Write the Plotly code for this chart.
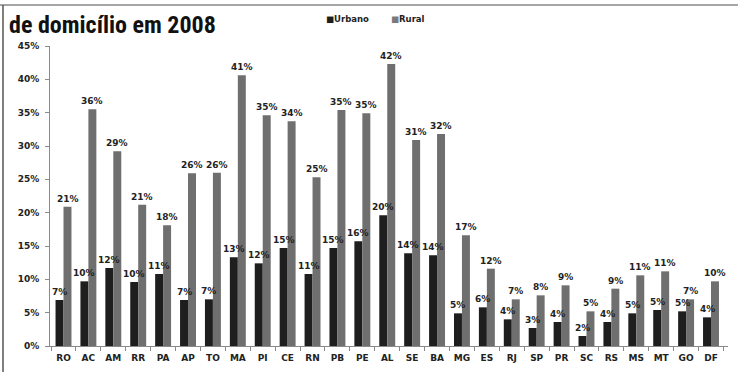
import plotly.graph_objects as go

estados = ["RO", "AC", "AM", "RR", "PA", "AP", "TO", "MA", "PI", "CE", "RN", "PB", "PE", "AL",
           "SE", "BA", "MG", "ES", "RJ", "SP", "PR", "SC", "RS", "MS", "MT", "GO", "DF"]
urbano = [0.069, 0.097, 0.117, 0.096, 0.108, 0.069, 0.070, 0.133, 0.124, 0.147, 0.108, 0.147, 0.157, 0.196,
          0.139, 0.136, 0.049, 0.058, 0.040, 0.027, 0.036, 0.015, 0.036, 0.049, 0.054, 0.052, 0.043]
rural = [0.209, 0.355, 0.292, 0.212, 0.181, 0.259, 0.260, 0.406, 0.346, 0.337, 0.253, 0.354, 0.349, 0.423,
         0.309, 0.318, 0.166, 0.116, 0.070, 0.076, 0.091, 0.052, 0.086, 0.106, 0.112, 0.070, 0.097]
y_ticks = [0, 0.05, 0.10, 0.15, 0.20, 0.25, 0.30, 0.35, 0.40, 0.45]

C_URB = "#1e1e1e"
C_RUR = "#6f6f6f"
FONT = "DejaVu Sans"
lbl_font = dict(family=FONT, size=9, color="#222", weight="bold")

fig = go.Figure()
for name, vals, col in [("Urbano", urbano, C_URB), ("Rural", rural, C_RUR)]:
    fig.add_trace(go.Bar(
        x=estados, y=vals, name=name, marker=dict(color=col, line=dict(width=0)),
        showlegend=False, hoverinfo="x+y",
    ))

# value labels drawn on top of every bar
for vals, shift in [(urbano, -4), (rural, 4)]:
    for est, v in zip(estados, vals):
        fig.add_annotation(x=est, y=v, text=f"{v:.0%}", xshift=shift, yshift=1,
                           xanchor="center", yanchor="bottom", showarrow=False, font=lbl_font)

fig.update_layout(
    width=738, height=372,
    margin=dict(l=50, r=10, t=46, b=26),
    paper_bgcolor="white", plot_bgcolor="white",
    barmode="group", bargap=0.36, bargroupgap=0,
    font=dict(family=FONT, size=9, color="#222"),
    xaxis=dict(
        type="category", showline=True, linecolor="#8a8a8a", linewidth=1,
        ticks="outside", tickson="boundaries", ticklen=4, tickcolor="#8a8a8a",
        tickangle=0, ticklabelstandoff=3,
        tickfont=dict(family=FONT, size=9, color="#222", weight="bold"),
        showgrid=False, zeroline=False,
    ),
    yaxis=dict(
        range=[0, 0.45], tickvals=y_ticks, tickformat=".0%",
        showline=True, linecolor="#8a8a8a", linewidth=1,
        ticks="outside", ticklen=4, tickcolor="#8a8a8a", ticklabelstandoff=4,
        tickfont=lbl_font, showgrid=False, zeroline=False,
    ),
)

# frame lines of the page
fig.add_shape(type="line", xref="paper", yref="paper", x0=-50/678, x1=688/678,
              y0=1 + 41/300, y1=1 + 41/300, line=dict(color="#a5a5a5", width=2))
fig.add_shape(type="line", xref="paper", yref="paper", x0=-47/678, x1=-47/678,
              y0=-26/300, y1=1 + 41/300, line=dict(color="#555", width=1.5))

# title
fig.add_annotation(text="<b>de domicílio em 2008</b>", xref="paper", yref="paper",
                   x=-43/678, y=1 + 37/300, xanchor="left", yanchor="top", showarrow=False,
                   font=dict(family="Liberation Sans Narrow, Roboto Condensed, Arial Narrow, sans-serif",
                             size=24, color="#111"))

# legend
for i, (name, col) in enumerate([("Urbano", C_URB), ("Rural", "#7a7a7a")]):
    fig.add_annotation(text=f"<span style='color:{col}'>■</span>{name}", xref="paper", yref="paper",
                       x=(274 + i * 65) / 678, y=1 + 27/300, xanchor="left", yanchor="middle",
                       showarrow=False, font=dict(family=FONT, size=8.5, color="#222", weight="bold"))

fig.write_html("out.html")
